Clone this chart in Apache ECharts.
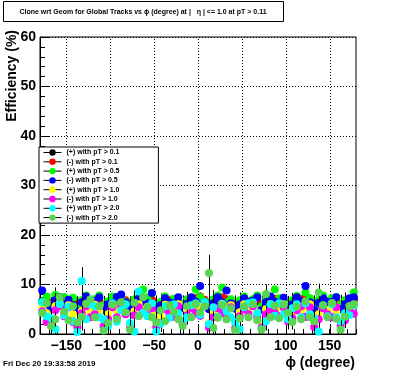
<!DOCTYPE html>
<html><head><meta charset="utf-8">
<script src="https://cdn.jsdelivr.net/npm/echarts@6/dist/echarts.min.js"></script>
<style>html,body{margin:0;padding:0;background:#fff}#c{width:396px;height:372px}</style>
</head><body><div id="c"></div>
<script>
// phi bin centers (degree)
const phiCenters = [
 -177.5,-172.5,-167.5,-162.5,-157.5,-152.5,-147.5,-142.5,-137.5,-132.5,-127.5,-122.5,
 -117.5,-112.5,-107.5,-102.5,-97.5,-92.5,-87.5,-82.5,-77.5,-72.5,-67.5,-62.5,
 -57.5,-52.5,-47.5,-42.5,-37.5,-32.5,-27.5,-22.5,-17.5,-12.5,-7.5,-2.5,
 2.5,7.5,12.5,17.5,22.5,27.5,32.5,37.5,42.5,47.5,52.5,57.5,
 62.5,67.5,72.5,77.5,82.5,87.5,92.5,97.5,102.5,107.5,112.5,117.5,
 122.5,127.5,132.5,137.5,142.5,147.5,152.5,157.5,162.5,167.5,172.5,177.5];
const xTickLabels = [-150,-100,-50,0,50,100,150];
const seriesNames = ['(+) with pT > 0.1','(-) with pT > 0.1','(+) with pT > 0.5','(-) with pT > 0.5',
 '(+) with pT > 1.0','(-) with pT > 1.0','(+) with pT > 2.0','(-) with pT > 2.0'];
const seriesColors = ['#000000','#ff0000','#00ff00','#0000ff','#ffff00','#ff00ff','#00ffff','#59d454'];

const effPos01 = [
 6.6,6.7,5.6,6.5,6.7,6.6,6.8,6.5,5.4,6.3,6.6,6.7,
 6.6,6.8,5.5,6.2,6.6,6.5,6.7,6.6,5.5,6.3,6.6,6.8,
 6.7,6.6,5.4,6.1,6.5,6.7,6.4,6.3,5.6,6.2,6.6,6.9,
 6.8,6.7,5.5,6.3,6.6,6.8,6.7,6.5,5.4,6.2,6.6,6.5,
 6.7,6.6,5.3,6.3,6.6,6.8,6.5,6.6,5.6,6.2,6.6,6.8,
 6.9,6.7,5.4,6.2,6.6,6.5,6.7,6.6,5.5,6.1,6.6,6.9];
const effNeg01 = [
 6.4,7.0,5.2,6.8,6.6,7.0,6.5,6.8,5.0,6.4,6.9,6.6,
 6.8,6.5,5.2,6.2,6.7,6.9,6.6,6.8,5.3,6.4,6.8,7.0,
 6.6,6.9,5.1,6.0,6.5,6.8,6.6,6.4,5.4,6.3,6.8,7.2,
 7.6,6.9,5.3,6.4,7.0,7.4,7.0,6.7,5.2,6.2,6.8,6.6,
 6.9,7.0,5.0,6.6,6.9,7.1,6.6,6.8,5.6,6.2,6.7,7.0,
 7.6,6.9,5.2,6.4,6.8,6.6,6.9,6.7,5.3,6.2,6.8,7.2];
const effPos05 = [
 6.4,7.6,5.6,7.9,6.6,7.5,6.2,7.3,5.4,6.8,7.8,6.5,
 7.0,7.8,5.8,6.6,7.6,6.2,7.4,6.5,5.6,7.0,6.3,9.0,
 7.4,8.3,5.7,6.5,7.6,6.4,7.1,6.2,6.0,7.0,6.4,9.0,
 7.5,6.6,5.9,7.0,7.8,9.4,6.4,7.0,5.8,6.8,7.6,6.5,
 7.0,7.8,5.6,7.0,6.4,9.0,7.2,6.5,6.0,6.8,7.7,6.5,
 8.4,7.2,5.8,6.9,7.8,6.4,7.2,7.5,6.0,6.8,6.5,8.4];
const effNeg05 = [
 8.8,6.0,5.0,6.8,7.4,6.0,6.9,5.8,4.6,6.4,7.6,6.2,
 6.7,7.4,4.8,6.0,6.2,7.5,8.0,6.4,5.0,6.2,7.2,6.4,
 6.2,8.3,4.9,5.8,7.2,6.4,6.2,7.4,5.2,6.1,7.4,6.5,
 9.7,6.4,5.0,6.2,7.4,6.4,8.8,6.2,5.1,6.0,7.2,6.4,
 6.7,7.4,4.8,6.4,7.6,6.5,6.3,7.3,5.4,6.0,7.4,6.6,
 9.7,6.4,4.9,6.3,7.2,6.4,6.5,7.4,5.0,6.0,7.2,7.4];
const effPos10 = [
 5.5,4.2,2.5,5.6,6.2,4.4,5.8,4.0,2.2,4.6,6.0,4.4,
 5.9,4.5,2.6,4.0,5.6,4.8,6.0,4.3,2.0,4.6,6.0,4.9,
 5.5,4.2,2.4,3.4,5.9,4.8,5.3,6.0,2.8,4.8,5.5,4.6,
 5.6,6.1,2.2,4.5,5.0,6.1,4.5,5.8,2.0,4.4,6.0,4.9,
 5.8,4.3,2.2,5.0,6.0,4.6,5.4,6.0,3.0,4.2,5.7,4.9,
 5.4,6.0,2.4,4.0,5.6,4.8,6.2,4.6,2.6,3.8,5.6,5.9];
const effNeg10 = [
 4.6,2.4,1.8,4.8,5.6,3.6,5.4,2.4,1.4,4.2,5.6,3.4,
 4.0,5.6,1.5,3.0,5.4,3.4,5.6,4.0,1.2,3.8,5.4,4.4,
 3.8,5.2,1.4,2.2,5.0,4.0,3.5,5.6,2.0,3.8,5.2,4.2,
 3.7,5.6,1.3,3.4,5.2,4.2,3.6,5.4,1.2,3.6,5.0,4.0,
 5.6,3.5,1.3,4.0,5.0,4.3,3.6,5.4,2.6,3.2,4.8,5.6,
 3.5,5.4,1.4,3.0,5.2,4.0,3.4,5.4,1.6,2.8,5.2,4.1];
const effPos20 = [
 6.4,3.6,3.2,1.0,6.0,3.8,5.5,2.6,0.4,10.7,3.0,6.0,
 5.6,3.4,3.0,1.5,6.2,2.5,4.8,6.0,2.2,0.5,8.6,4.3,
 3.6,6.2,0.5,2.1,5.6,3.3,6.0,4.2,2.7,3.4,5.8,6.2,
 3.9,6.4,2.0,5.4,3.5,6.0,4.6,3.4,2.3,1.0,5.4,6.2,
 6.4,4.2,1.0,2.6,6.0,3.7,6.2,4.0,3.0,5.2,6.0,3.4,
 6.2,4.0,3.2,0.5,5.8,3.6,6.0,3.4,2.6,4.2,3.8,5.8];
const effNeg20 = [
 4.3,6.2,1.6,3.0,7.4,4.5,2.8,5.6,2.3,3.5,6.1,7.0,
 3.4,5.6,0.7,2.2,5.9,3.0,6.4,4.4,0.9,6.3,3.6,7.4,
 5.4,3.4,2.3,4.8,2.6,5.8,4.5,3.0,1.6,5.6,3.4,6.0,
 4.4,5.6,12.3,1.2,3.3,5.8,3.0,5.2,0.8,3.2,5.6,3.4,
 6.0,2.8,0.9,8.1,3.4,5.7,3.2,5.9,4.3,2.4,5.5,3.0,
 6.6,3.4,2.6,8.4,5.8,3.4,6.2,3.1,0.9,3.5,5.6,6.0];
const binErrors = [
 0.7,0.6,1.8,1.5,0.6,0.7,0.6,0.8,2.2,2.8,0.7,0.6,
 0.6,0.7,1.9,1.6,0.6,0.7,0.6,0.7,2.0,1.8,0.7,0.6,
 0.7,0.6,2.1,1.7,0.6,0.7,0.6,0.7,1.8,1.5,0.6,0.7,
 0.8,0.6,3.7,1.9,0.7,0.6,0.7,0.6,2.0,1.6,0.7,0.6,
 0.6,0.7,2.1,1.9,0.6,0.7,0.6,0.7,1.7,1.5,0.6,0.7,
 0.8,0.6,2.0,1.8,0.7,0.6,0.7,0.6,1.9,1.6,0.6,0.7];

const seriesValues = [effPos01,effNeg01,effPos05,effNeg05,effPos10,effNeg10,effPos20,effNeg20];
const FONT = '"Liberation Sans", Arial, Helvetica, sans-serif';
const Y_MIN = 0, Y_MAX = 60;

const chart = echarts.init(document.getElementById('c'), null, {renderer:'canvas'});
const series = [];
series.push({
  type:'custom', name:'xgrid', silent:true, z:1,
  data: xTickLabels.map(v => [v, 0]),
  renderItem: (p, api) => {
    const x = api.value(0);
    const a = api.coord([x, Y_MIN]), b = api.coord([x, Y_MAX]);
    const xx = Math.round(a[0]) + 0.5;
    return {type:'group', children:[
      {type:'line', shape:{x1:xx, y1:a[1], x2:xx, y2:b[1]}, style:{stroke:'#000', lineWidth:1, lineDash:[1,2]}},
      {type:'line', shape:{x1:xx, y1:a[1], x2:xx, y2:a[1]-9}, style:{stroke:'#000', lineWidth:1}}
    ]};
  }
});
seriesValues.forEach((vals, i) => {
  series.push({
    type:'custom', name: seriesNames[i] + ' err', silent:true, z: 2 + 2*i,
    data: phiCenters.map((x, k) => [x, vals[k], binErrors[k]]),
    renderItem: (p, api) => {
      const x = api.value(0), y = api.value(1), e = api.value(2);
      const a = api.coord([x, Math.max(Y_MIN, y - e)]);
      const b = api.coord([x, Math.min(Y_MAX, y + e)]);
      const xx = Math.round(a[0]) + 0.5;
      return {type:'line', shape:{x1:xx, y1:a[1], x2:xx, y2:b[1]}, style:{stroke:'#000', lineWidth:1}};
    }
  });
  series.push({
    type:'line', name: seriesNames[i], z: 3 + 2*i,
    data: phiCenters.map((x, k) => [x, vals[k]]),
    symbol:'circle', symbolSize:8, showSymbol:true,
    itemStyle:{color: seriesColors[i]},
    lineStyle:{opacity:0, width:1, color:'#000'},
    emphasis:{disabled:true}
  });
});

chart.setOption({
  animation:false,
  backgroundColor:'#fff',
  grid:{left:40, right:40, top:37, bottom:38, show:true, borderColor:'#000', borderWidth:1, backgroundColor:'transparent'},
  xAxis:{type:'value', min:-180, max:180, interval:10,
    axisLine:{show:true, onZero:false, lineStyle:{color:'#000', width:1}},
    axisTick:{show:true, inside:true, length:5, lineStyle:{color:'#000'}},
    axisLabel:{formatter: v => xTickLabels.includes(v) ? String(v).replace('-', '\u2212') : '',
      color:'#000', fontSize:14, fontWeight:'bold', fontFamily:FONT, margin:5, showMinLabel:true, showMaxLabel:true},
    splitLine:{show:false}},
  yAxis:{type:'value', min:Y_MIN, max:Y_MAX, interval:10,
    axisLine:{show:true, onZero:false, lineStyle:{color:'#000', width:1}},
    axisTick:{show:true, inside:true, length:9, lineStyle:{color:'#000'}},
    minorTick:{show:true, splitNumber:5, length:5, lineStyle:{color:'#000'}},
    axisLabel:{color:'#000', fontSize:14, fontWeight:'bold', fontFamily:FONT, margin:4},
    splitLine:{show:true, lineStyle:{color:'#000', width:1, type:[1,2]}}},
  legend:{data: seriesNames, orient:'vertical', left:39, top:147,
    padding:[2, 39, 2, 4], itemGap:2.3, itemWidth:18, itemHeight:8,
    backgroundColor:'#fff', borderColor:'#000', borderWidth:1, borderRadius:0,
    lineStyle:{color:'#000', width:1, opacity:1},
    selectedMode:false,
    textStyle:{fontSize:7, fontWeight:'bold', fontFamily:FONT, color:'#000', padding:[0,0,0,0]}},
  graphic:[
    {type:'rect', shape:{x:3.5, y:1.5, width:280, height:20}, style:{fill:'#fff', stroke:'#000', lineWidth:1}, z:100},
    {type:'text', x:143, y:12, z:101, style:{text:'Clone wrt Geom for Global Tracks vs \u03d5 (degree) at |   \u03b7 | <= 1.0 at pT > 0.11',
      font:'bold 7px ' + FONT, align:'center', verticalAlign:'middle', fill:'#000'}},
    {type:'text', x:12, y:30, rotation:Math.PI/2, z:101, style:{text:'Efficiency (%)', font:'bold 14px ' + FONT,
      align:'right', verticalAlign:'middle', fill:'#000'}},
    {type:'text', x:355, y:363, z:101, style:{text:'\u03d5 (degree)', font:'bold 14px ' + FONT,
      align:'right', verticalAlign:'middle', fill:'#000'}},
    {type:'text', x:3, y:364, z:101, style:{text:'Fri Dec 20 19:33:58 2019', font:'bold 8px ' + FONT,
      align:'left', verticalAlign:'middle', fill:'#000'}}
  ],
  series: series
});
</script></body></html>
